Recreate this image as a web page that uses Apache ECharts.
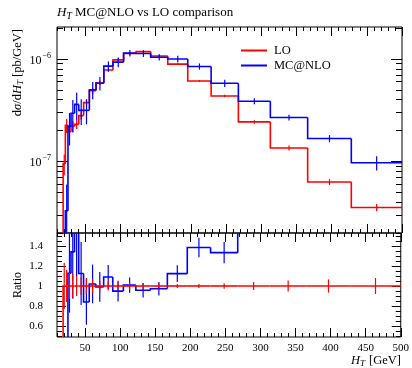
<!DOCTYPE html>
<html><head><meta charset="utf-8">
<script src="https://cdn.jsdelivr.net/npm/echarts@6/dist/echarts.min.js"></script>
<style>html,body{margin:0;padding:0;background:#fff}#c{width:412px;height:368px}</style>
</head><body><div id="c"></div>
<script>
// Bin edges (GeV) of the visible histogram bins
const binEdges = [18.71, 21.88, 25.59, 29.92, 34.99, 40.92, 47.85, 55.96, 65.44, 76.52, 89.49,
  104.6, 122.4, 143.1, 167.3, 195.7, 228.9, 267.6, 313.0, 366.0, 428.0, 500.0];
// dsigma/dH_T [pb/GeV], one value per bin
const loValues = [9.5e-8, 2.25e-7, 1.95e-7, 2.2e-7, 2.3e-7, 2.8e-7, 3.75e-7, 4.9e-7, 5.85e-7, 7.8e-7,
  9.8e-7, 1.13e-6, 1.18e-6, 1.07e-6, 8.9e-7, 6.1e-7, 4.35e-7, 2.43e-7, 1.35e-7, 6.3e-8, 3.55e-8];
const mcValues = [null, 3.3e-8, 2.2e-7, 2.95e-7, 3.6e-7, 3.15e-7, 3.15e-7, 5.0e-7, 5.8e-7, 8.5e-7,
  9.3e-7, 1.14e-6, 1.13e-6, 1.04e-6, 1.0e-6, 8.45e-7, 5.8e-7, 3.87e-7, 2.68e-7, 1.67e-7, 9.7e-8];
// relative uncertainties
const loRelErr = [0.23, 0.16, 0.13, 0.12, 0.10, 0.09, 0.08, 0.07, 0.05, 0.045, 0.04, 0.035, 0.03,
  0.025, 0.02, 0.02, 0.027, 0.04, 0.056, 0.066, 0.08];
const mcRelErr = [null, 0.8, 0.35, 0.35, 0.3, 0.28, 0.27, 0.19, 0.15, 0.11, 0.11, 0.075, 0.075,
  0.07, 0.075, 0.07, 0.08, 0.066, 0.065, 0.08, 0.16];
// tick labels
const xTickLabels = [50, 100, 150, 200, 250, 300, 350, 400, 450, 500];
const yMainTickLabels = [1e-7, 1e-6];
const yRatioTickLabels = [0.6, 0.8, 1, 1.2, 1.4];

const RED = '#ff0000', BLUE = '#0000ff';
const FONT = 'Liberation Serif';
const xMinor = [];
for (let v = 10; v < 500; v += 10) if (v % 50 !== 0) xMinor.push(v);
const yMainMinor = [];
[1e-8, 1e-7, 1e-6].forEach(d => { for (let k = 2; k <= 9; k++) yMainMinor.push(k * d); });
const yRatioMinor = [];
for (let i = 0; i <= 20; i++) { const v = +(0.5 + i * 0.05).toFixed(2); if (yRatioTickLabels.indexOf(v) < 0) yRatioMinor.push(v); }

function histData(vals) {
  const rows = [];
  let prev = null;
  vals.forEach((v, i) => {
    if (v == null) { prev = null; return; }
    rows.push([binEdges[i], binEdges[i + 1], v, prev == null ? '-' : prev]);
    prev = v;
  });
  return rows;
}
function errData(vals, rel) {
  const rows = [];
  vals.forEach((v, i) => {
    if (v == null || rel[i] == null) return;
    const c = (binEdges[i] + binEdges[i + 1]) / 2;
    rows.push([c, v * (1 - rel[i]), v * (1 + rel[i])]);
  });
  return rows;
}
const ratioLo = loValues.map(() => 1);
const ratioMc = mcValues.map((v, i) => v == null ? null : v / loValues[i]);

function histRender(params, api) {
  const cs = params.coordSys;
  const lo = api.value(0), hi = api.value(1), v = api.value(2), prev = api.value(3);
  const p1 = api.coord([lo, v]), p2 = api.coord([hi, v]);
  const yPrev = (prev == null || isNaN(prev)) ? cs.y + cs.height + 3 : api.coord([lo, prev])[1];
  return { type: 'polyline', shape: { points: [[p1[0], yPrev], p1, p2] },
    style: { stroke: api.visual('color'), lineWidth: 1.6, fill: null } };
}
function errRender(params, api) {
  const a = api.coord([api.value(0), api.value(1)]);
  const b = api.coord([api.value(0), api.value(2)]);
  return { type: 'line', shape: { x1: a[0], y1: a[1], x2: b[0], y2: b[1] },
    style: { stroke: api.visual('color'), lineWidth: 1.2 } };
}

function xAxisDef(grid, pos, ticks, len, labels) {
  return { type: 'value', gridIndex: grid, min: 10, max: 500, position: pos,
    axisLine: { show: false, onZero: false }, splitLine: { show: false },
    axisTick: { show: true, inside: true, length: len, customValues: ticks, lineStyle: { color: '#000', width: 1 } },
    axisLabel: labels ? { show: true, customValues: xTickLabels, color: '#000', fontFamily: FONT, fontSize: 11, margin: 6 } : { show: false } };
}
function yMainDef(pos, ticks, len, labels) {
  return { type: 'log', logBase: 10, gridIndex: 0, min: 2e-8, max: 2.05e-6, position: pos,
    axisLine: { show: false, onZero: false }, splitLine: { show: false },
    axisTick: { show: true, inside: true, length: len, customValues: ticks, lineStyle: { color: '#000', width: 1 } },
    axisLabel: labels ? { show: true, customValues: yMainTickLabels, margin: 6,
      formatter: v => '{b|10}{s|−' + Math.round(-Math.log10(v)) + '}',
      rich: { b: { fontFamily: FONT, fontSize: 12, color: '#000', verticalAlign: 'top', padding: [3, 0, 0, 0] },
              s: { fontFamily: FONT, fontSize: 8, color: '#000', verticalAlign: 'top', padding: [0, 0, 0, 1] } } } : { show: false } };
}
function yRatioDef(pos, ticks, len, labels) {
  return { type: 'value', gridIndex: 1, min: 0.49, max: 1.53, position: pos,
    axisLine: { show: false, onZero: false }, splitLine: { show: false },
    axisTick: { show: true, inside: true, length: len, customValues: ticks, lineStyle: { color: '#000', width: 1 } },
    axisLabel: labels ? { show: true, customValues: yRatioTickLabels, margin: 14, color: '#000', fontFamily: FONT, fontSize: 11,
      formatter: v => String(+(+v).toFixed(2)) } : { show: false } };
}

const xAxes = [
  xAxisDef(0, 'bottom', xTickLabels, 9, false),
  xAxisDef(0, 'bottom', xMinor, 4, false),
  xAxisDef(0, 'top', xTickLabels, 9, false),
  xAxisDef(0, 'top', xMinor, 4, false),
  xAxisDef(1, 'bottom', xTickLabels, 9, true),
  xAxisDef(1, 'bottom', xMinor, 4, false),
  xAxisDef(1, 'top', xTickLabels, 9, false),
  xAxisDef(1, 'top', xMinor, 4, false)
];
const yAxes = [
  yMainDef('left', yMainTickLabels, 11, true),
  yMainDef('left', yMainMinor, 6, false),
  yMainDef('right', yMainTickLabels, 11, false),
  yMainDef('right', yMainMinor, 6, false),
  yRatioDef('left', yRatioTickLabels, 9, true),
  yRatioDef('left', yRatioMinor, 5, false),
  yRatioDef('right', yRatioTickLabels, 9, false),
  yRatioDef('right', yRatioMinor, 5, false)
];

function custom(name, color, data, render, xi, yi, yEnc, z) {
  return { type: 'custom', name: name, xAxisIndex: xi, yAxisIndex: yi, data: data, renderItem: render,
    clip: true, itemStyle: { color: color }, encode: { x: render === histRender ? [0, 1] : [0], y: yEnc }, z: z, silent: true };
}

const option = {
  animation: false,
  backgroundColor: '#fff',
  grid: [
    { left: 57, top: 27, width: 345, height: 206, show: true, borderColor: '#000', borderWidth: 1, backgroundColor: 'transparent' },
    { left: 57, top: 233, width: 345, height: 104, show: true, borderColor: '#000', borderWidth: 1, backgroundColor: 'transparent' }
  ],
  xAxis: xAxes,
  yAxis: yAxes,
  legend: { orient: 'vertical', left: 236, top: 39, itemWidth: 26, itemHeight: 2, itemGap: 2, icon: 'rect',
    data: ['LO', 'MC@NLO'], selectedMode: false,
    textStyle: { fontFamily: FONT, fontSize: 12.5, color: '#000', padding: [0, 0, 0, 2], lineHeight: 12.5 } },
  series: [
    custom('LO', RED, histData(loValues), histRender, 0, 0, [2], 3),
    custom('LO err', RED, errData(loValues, loRelErr), errRender, 0, 0, [1, 2], 3),
    custom('MC@NLO', BLUE, histData(mcValues), histRender, 0, 0, [2], 4),
    custom('MC@NLO err', BLUE, errData(mcValues, mcRelErr), errRender, 0, 0, [1, 2], 4),
    custom('MC ratio', BLUE, histData(ratioMc), histRender, 4, 4, [2], 3),
    custom('MC ratio err', BLUE, errData(ratioMc, mcRelErr), errRender, 4, 4, [1, 2], 3),
    custom('LO ratio', RED, histData(ratioLo), histRender, 4, 4, [2], 4),
    custom('LO ratio err', RED, errData(ratioLo, loRelErr), errRender, 4, 4, [1, 2], 4)
  ],
  graphic: [
    { type: 'text', x: 57, y: 6.5, silent: true, style: { text: '{i|H}{u|T}{n| MC@NLO vs LO comparison}', align: 'left', verticalAlign: 'top',
      rich: { i: { fontFamily: FONT, fontSize: 13, fontStyle: 'italic', fill: '#000', verticalAlign: 'top' },
              u: { fontFamily: FONT, fontSize: 9.5, fontStyle: 'italic', fill: '#000', verticalAlign: 'top', padding: [5, 0, 0, 0] },
              n: { fontFamily: FONT, fontSize: 13, fill: '#000', verticalAlign: 'top' } } } },
    { type: 'text', x: 18, y: 29, rotation: Math.PI / 2, silent: true, style: { text: '{n|d}{i|σ}{n|/d}{i|H}{u|T}{n| [pb/GeV]}', align: 'right', verticalAlign: 'middle',
      rich: { i: { fontFamily: FONT, fontSize: 12.5, fontStyle: 'italic', fill: '#000', verticalAlign: 'top' },
              u: { fontFamily: FONT, fontSize: 9, fontStyle: 'italic', fill: '#000', verticalAlign: 'top', padding: [5, 0, 0, 0] },
              n: { fontFamily: FONT, fontSize: 12.5, fill: '#000', verticalAlign: 'top' } } } },
    { type: 'text', x: 18, y: 285, rotation: Math.PI / 2, silent: true, style: { text: 'Ratio', align: 'center', verticalAlign: 'middle',
      font: '12px "Liberation Serif"', fill: '#000' } },
    { type: 'text', x: 401, y: 361, silent: true, style: { text: '{i|H}{u|T}{n|\u00a0[GeV]}', align: 'right', verticalAlign: 'middle',
      rich: { i: { fontFamily: FONT, fontSize: 12.5, fontStyle: 'italic', fill: '#000', verticalAlign: 'top' },
              u: { fontFamily: FONT, fontSize: 9, fontStyle: 'italic', fill: '#000', verticalAlign: 'top', padding: [5, 1, 0, 0] },
              n: { fontFamily: FONT, fontSize: 12.5, fill: '#000', verticalAlign: 'top' } } } }
  ]
};
const chart = echarts.init(document.getElementById('c'), null, { renderer: 'canvas' });
chart.setOption(option);
</script>
</body></html>
